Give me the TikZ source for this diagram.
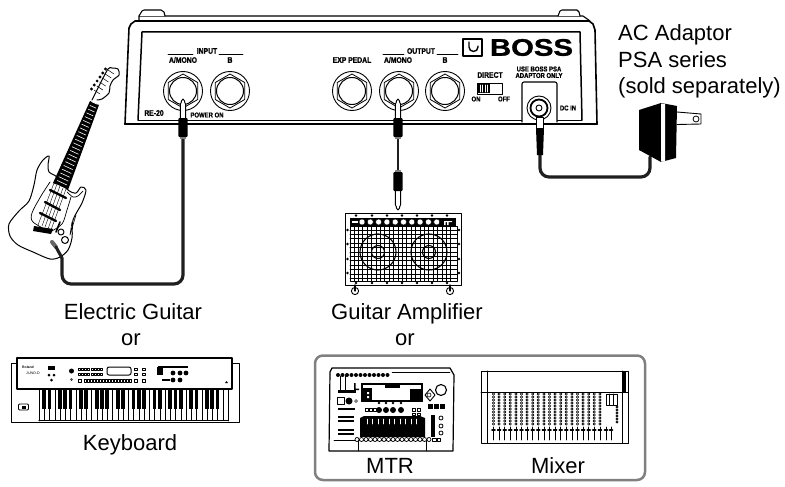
\documentclass[tikz,border=0pt]{standalone}
\usepackage{fontspec}
\setmainfont{Liberation Sans}
\newfontfamily\panelfam[UprightFont={* Bold},FakeBold=1.2]{Liberation Sans}
\usetikzlibrary{calc,positioning}
\newcommand{\capfont}{\fontsize{22}{26}\selectfont}
\newcommand{\panelfont}{\panelfam\fontsize{8}{9}\selectfont}
\newcommand{\smallpanelfont}{\panelfam\fontsize{7}{8}\selectfont}
\tikzset{
  caption/.style={font=\capfont,inner sep=0pt,anchor=base},
  panel/.style={font=\panelfont,inner sep=0pt,xscale=.85,transform shape},
  smallpanel/.style={panel,font=\smallpanelfont},
  tiny/.style={font=\fontsize{3.6}{4}\selectfont,inner sep=0pt},
  cable/.style={line width=3.2pt,black!88,rounded corners=9pt},
  jackhole/.pic={
    \draw[line width=.9pt] (0,0) circle (19.5pt);
    \draw[line width=.8pt] (90:17pt) -- (150:17pt) -- (210:17pt) -- (270:17pt) -- (330:17pt) -- (30:17pt) -- cycle;
    \draw[line width=1pt] (0,0) circle (13.5pt);
  },
  jackplug/.pic={
    \draw[fill=white,line width=.9pt] (-2.6,20) -- (-2.6,5) -- (-1.6,3) -- (-1.6,2) -- (0,0) -- (1.6,2) -- (1.6,3) -- (2.6,5) -- (2.6,20) -- cycle;
    \fill[black,rounded corners=1pt] (-4.6,19) rectangle (4.6,38);
    \fill[black!50] (-2.6,38) rectangle (2.6,40);
  },
}
\begin{document}
\begin{tikzpicture}[x=1pt,y=-1pt,line cap=round,line join=round]
  \useasboundingbox (0,0) rectangle (785,487);

  % draw pedal housing
  \draw[line width=1.1pt] (139,21) -- (139,16) -- (583,16) -- (590,21);
  \draw[line width=1.1pt,fill=white] (139,16) -- (142,11) -- (144,10) -- (161,10) -- (164,12) -- (165,16);
  \draw[line width=1.1pt,fill=white] (558,16) -- (560,11) -- (562,10) -- (577,10) -- (579,12) -- (580,16);
  \draw[line width=1.6pt] (125,124) -- (129,28) -- (131,24) -- (135,21) -- (589,21) -- (593,24) -- (595,30) -- (597,124);
  \draw[line width=2.2pt] (125,124) -- (597,124);
  \draw[line width=1.5pt] (138,120) -- (142,32) -- (580,32) -- (582,120);
  \draw[line width=.9pt] (138,120) -- (522,120) (557,120) -- (582,120);

  % draw jacks
  \foreach \jackx/\jackname in {183/ina,230/inb,352/exp,399/outa,445/outb}{
    \pic (\jackname) at (\jackx,91) {jackhole};
  }

  % panel text
  \node[panel] (inputlbl) at (207,51) {INPUT};
  \node[panel] (outputlbl) at (421,51) {OUTPUT};
  \draw[line width=.8pt] (168,54) -- (193,54) (219,54) -- (243,54);
  \draw[line width=.8pt] (383,54) -- (404,54) (437,54) -- (458,54);
  \node[panel] (inalbl) at (183,60) {A/MONO};
  \node[panel] (inblbl) at (230,60) {B};
  \node[panel] (explbl) at (352,60) {EXP PEDAL};
  \node[panel] (outalbl) at (398,60) {A/MONO};
  \node[panel] (outblbl) at (445,60) {B};
  \node[panel] (directlbl) at (490,75) {DIRECT};
  \node[smallpanel] (onlbl) at (476,99) {ON};
  \node[smallpanel] (offlbl) at (504,99) {OFF};
  \node[smallpanel] (uselbl) at (539,69) {USE BOSS PSA};
  \node[smallpanel] (onlylbl) at (539,75.5) {ADAPTOR ONLY};
  \node[smallpanel] (dclbl) at (568,108) {DC IN};
  \node[panel] (modellbl) at (154,113) {RE-20};
  \node[smallpanel] (powerlbl) at (207,115) {POWER ON};

  % logo
  \draw[line width=1.2pt] (463,39) rectangle (482,56);
  \draw[line width=1.4pt] (469,42) -- (469,47) arc (180:360:4.5pt and 4.5pt) -- (478,46);
  \node[inner sep=0pt,font=\panelfam\fontsize{24}{24}\selectfont,xscale=1.22,transform shape] (bosslogo) at (531.5,47.5) {BOSS};

  % direct switch
  \draw[line width=.9pt] (477,83) rectangle (502,94);
  \fill (478,84) rectangle (490,93);
  \foreach \sx in {480,482.5,485,487.5}{
    \draw[white,line width=.6pt] (\sx,85) -- (\sx,92);
  }

  % dc in socket
  \draw[line width=1.1pt,fill=white,rounded corners=2pt] (522,122) -- (522,82) -- (557,82) -- (557,122);
  \draw[line width=.9pt] (539,108) circle (12pt);
  \draw[line width=1.8pt] (539,108) circle (8.5pt);
  \draw[line width=.9pt] (539,108) circle (3pt);

  % cables
  \coordinate (inplug) at (183,137);
  \coordinate (guitarjack) at (62,258);
  \coordinate (outplug) at (398,137);
  \coordinate (ampplug) at (398,172);
  \coordinate (dcplug) at (540,155);
  \coordinate (adaptorout) at (650,157);
  \draw[cable] (inplug) -- ++(0,147) -| (guitarjack);
  \draw[cable,line width=2.4pt] (outplug) -- (ampplug);
  \draw[cable] (dcplug) -- ++(0,22) -| (adaptorout);

  % plugs
  \pic at (183,99) {jackplug};
  \pic at (398,99) {jackplug};
  \pic[yscale=-1] at (398,210) {jackplug};
  \draw[fill=white,line width=.9pt] (536.5,117) rectangle (543.5,129);
  \fill (536,128) -- (544,128) -- (543,155) -- (537,155) -- cycle;

  % ac adaptor
  \fill (639,110) -- (661,103) -- (677,106) -- (676,158) -- (661,162) -- (639,150) -- cycle;
  \fill[white] (661,103.5) -- (665,104) -- (665,161.5) -- (661,161.5) -- cycle;
  \draw[line width=.9pt,fill=white] (677,112) -- (701,114) -- (701,124) -- (677,124.5);
  \draw[line width=.8pt] (696,119) circle (3pt);
  \node[caption,anchor=base west] (aclbl) at (618,41) {AC Adaptor};
  \node[caption,anchor=base west] (psalbl) at (618,67) {PSA series};
  \node[caption,anchor=base west] (soldlbl) at (618,93) {(sold separately)};

  % draw guitar body
  \draw[line width=1pt,fill=white] plot[smooth cycle] coordinates {(49,156) (43,160) (37,170) (34,185) (29,201) (19,211) (9,224) (10,236) (18,245) (33,252) (50,259) (60,257) (68,250) (72,238) (73,220) (82,203) (86,190) (81,187) (76,193) (68,190) (57,177) (49,172) (48,165)};
  \draw[line width=.7pt] plot[smooth] coordinates {(67,192) (73,197) (78,196) (83,191)};
  \draw[line width=.7pt] plot[smooth] coordinates {(50,182) (41,196) (32,213) (33,222) (50,232)};
  \draw[line width=.7pt] plot[smooth] coordinates {(50,232) (62,224) (67,210) (71,197)};
  \draw[line width=.6pt] (76,215) -- (70,235) -- (72,222);

  % neck and head
  \coordinate (neckla) at (90,101);
  \coordinate (neckra) at (99,105);
  \coordinate (necklb) at (53,183);
  \coordinate (neckrb) at (68,190);
  \draw[line width=1pt,fill=white] plot[smooth] coordinates {(92,100) (99,86) (108,69) (112,68) (118,69) (119,75) (113,80) (110,86) (109,93) (102,99) (97,100)};
  \fill (neckla) -- (neckra) -- (neckrb) -- (necklb) -- cycle;
  \foreach \fr in {0,1,...,22}{
    \draw[white,line width=.6pt] ($(neckla)!\fr/22!(necklb)!.18!($(neckra)!\fr/22!(neckrb)$)$) -- ($(neckla)!\fr/22!(necklb)!.82!($(neckra)!\fr/22!(neckrb)$)$);
  }
  \foreach \ty in {0,1,...,5}{
    \fill ($(108,70)!\ty/5!(94,90)$) ++(-2.5,-1) circle (1.6pt);
    \draw[line width=.5pt] ($(108,70)!\ty/5!(94,90)$) -- ++(6,4);
  }
  \draw[line width=.4pt] (45,227) -- (60,186) (48,229) -- (63,188) (51,230) -- (66,189);
  \draw[line width=.4pt] (38,225) -- (54,183) (42,226) -- (57,184);

  % pickups, bridge and knobs
  \draw[line width=2.4pt] (50,190) -- (66,198);
  \draw[line width=2.4pt] (45,202) -- (60,210);
  \draw[line width=2.4pt] (40,213) -- (56,221);
  \fill (34,226) -- (53,229) -- (51,234) -- (33,231) -- cycle;
  \draw[line width=1.6pt] (56,232) -- (60,222);
  \draw[line width=1pt] (61,232) circle (3pt);
  \draw[line width=1pt] (65,240) circle (3.5pt);

  % guitar lead
  \draw[line width=4pt,black!60] (52,242) -- (56,247);
  \draw[line width=3pt,black!88] (56,247) -- (guitarjack);

  % draw amplifier
  \draw[line width=1pt,fill=white] (345,213) rectangle (461,285);
  \draw[line width=1pt] (350,226) rectangle (457,281);
  \foreach \gx in {354,358.4,...,455}{
    \draw[line width=1pt] (\gx,226) -- (\gx,281);
  }
  \foreach \gy in {230,234.4,...,280}{
    \draw[line width=1pt] (350,\gy) -- (457,\gy);
  }
  \foreach \spx in {378,429}{
    \draw[line width=1.1pt] (\spx,252) circle (18pt);
    \draw[line width=1.1pt] (\spx,252) circle (6.5pt);
  }
  \fill (350,218) rectangle (456,226);
  \fill[white] (352,221) rectangle (358,222.5);
  \foreach \kx in {362,370.3,...,438}{
    \draw[fill=white,line width=.4pt] (\kx,222) circle (3pt);
  }
  \fill[white] (444,222) rectangle (445.5,225) (447,222) rectangle (448.5,225) (444,221) rectangle (452,222);
  \foreach \stx in {356,372,387,402,417,432,447}{
    \fill (\stx,215.5) circle (1.3pt);
    \fill (\stx,283) circle (1.3pt);
  }
  \foreach \sty in {230,244,259,273}{
    \fill (347.5,\sty) circle (1.3pt);
    \fill (459,\sty) circle (1.3pt);
  }
  \foreach \whx in {355,450}{
    \draw[line width=.9pt] (\whx,291) circle (3.6pt);
    \draw[line width=1.2pt] (\whx,285) -- (\whx,291);
  }

  % captions
  \node[caption] (guitarlbl) at (133,319) {Electric Guitar};
  \node[caption] (guitaror) at (131,345) {or};
  \node[caption] (keyboardlbl) at (130,450) {Keyboard};
  \node[caption] (amplbl) at (407,319) {Guitar Amplifier};
  \node[caption] (ampor) at (405,345) {or};

  % draw keyboard
  \draw[line width=1pt,fill=white] (11,363) rectangle (239,422);
  \draw[line width=1.2pt,fill=white] (17,358) -- (232,358) -- (232,389) -- (17,389) -- cycle;
  \draw[line width=.9pt] (39,389) -- (39,421) (228,389) -- (228,421);
  \draw[line width=1.4pt] (39,420.5) -- (228,420.5);
  \foreach \wk in {1,...,35}{
    \draw[line width=.4pt] ({39+\wk*5.25},389) -- ({39+\wk*5.25},420);
  }
  \foreach \oct in {0,...,4}{
    \foreach \bk in {1,2,4,5,6}{
      \fill ({39+(\oct*7+\bk)*5.25-1.8},389) rectangle ({39+(\oct*7+\bk)*5.25+1.8},409);
    }
  }
  \draw[line width=.8pt,rounded corners=1pt] (18.5,404) rectangle (28.5,410);
  \fill (21.5,405.5) rectangle (25.5,408.5);
  \node[tiny,font=\fontsize{3.4}{4}\bfseries\selectfont] (rolandlbl) at (28,367.5) {Roland};
  \node[tiny] (junolbl) at (33,373) {JUNO-D};
  \fill (48,366) rectangle (55,370);
  \fill (49,375) circle (1.5pt) (54,375) circle (1.5pt) (51.5,380) circle (1.5pt);
  \fill (71.5,371) circle (2.5pt);
  \draw[line width=.7pt] (71.5,379.5) circle (1pt);
  \foreach \bx in {78,81,84,87,91,94,97,100}{
    \draw[line width=.6pt] (\bx,368.5) rectangle ++(2,1.8);
    \draw[line width=.6pt] (\bx,373) rectangle ++(2,1.8);
  }
  \draw[line width=1pt,rounded corners=2pt] (107,367) rectangle (131,375);
  \draw[line width=.6pt] (78,379) rectangle (81,382);
  \foreach \sb in {84,87,...,129}{
    \draw[line width=.6pt] (\sb,379) rectangle ++(2,3);
  }
  \foreach \bx in {134,142}{
    \draw[line width=.6pt] (\bx,379) rectangle ++(3,3);
    \draw[line width=.6pt] (\bx,368) rectangle ++(3,2);
    \draw[line width=.6pt] (\bx,373) rectangle ++(3,2);
  }
  \fill (157,367) rectangle (163,375);
  \fill (158,366) -- (188,366) -- (188,367.5) -- (158,367.5) -- cycle;
  \foreach \kbx in {173,180,186}{
    \fill (\kbx,373) circle (2.4pt);
  }
  \foreach \kbx in {173,180}{
    \fill (\kbx,380) circle (2.4pt);
  }
  \fill (162,379) rectangle (170,381);
  \fill (225,383) -- (228,383) -- (226.5,381) -- cycle;

  % draw box round recorders
  \draw[line width=2.5pt,black!50,rounded corners=8pt] (315,355.5) rectangle (645,480);

  % draw mtr
  \draw[line width=1.2pt,fill=white] (329,451) -- (330,372) -- (332,368) -- (450,368) -- (454,375) -- (453,451) -- cycle;
  \draw[line width=.8pt] (334,440) -- (356,440) (358,451) -- (358,440) -- (426,440) -- (426,451);
  \foreach \tbx in {338,342.5,...,391}{
    \fill (\tbx,375) circle (2pt);
  }
  \draw[line width=.5pt] (392,372) -- (450,372);
  \fill (361,383) rectangle (423,402);
  \fill[white] (363,385) rectangle (421,400);
  \fill (385,385) rectangle (400,388);
  \fill (363,388) -- (372,388) -- (372,400) -- (363,400) -- cycle;
  \fill (410,389) rectangle (421,400);
  \fill[white] (367,392) rectangle (369,394) (367,396) rectangle (369,398);
  \foreach \krx in {379,386,393,401}{
    \fill (\krx,410) circle (3pt);
    \fill (\krx,403) circle (1.4pt);
  }
  \foreach \bkx in {365,369,373}{
    \draw[line width=.7pt] (\bkx,408) rectangle ++(3,3);
  }
  \foreach \bkx in {412,417}{
    \draw[line width=.7pt] (\bkx,408) rectangle ++(3,3);
    \draw[line width=.7pt] (\bkx,413) rectangle ++(3,2);
  }
  \fill (360,418) -- (364,416) -- (420,416) -- (425,418) -- (425,437) -- (360,437) -- cycle;
  \foreach \ftx in {367,372.5,...,420}{
    \draw[white,line width=.5pt] (\ftx,419) -- (\ftx,424);
  }
  \foreach \btx in {357,361.5,...,430}{
    \draw[fill=white,line width=.7pt] (\btx,439.5) circle (2pt);
  }
  \draw[line width=1.1pt] (441,390) circle (5.5pt);
  \draw[line width=.9pt] (430,389) -- (435,395) -- (430,401) -- (425,395) -- cycle;
  \draw[line width=.6pt] (429,395) circle (2pt);
  \foreach \bsx in {428,434,440}{
    \fill (\bsx,404) rectangle ++(5,5);
  }
  \foreach \cky in {418,426,433}{
    \draw[line width=.8pt] (441,\cky) circle (2pt);
  }
  \fill (431,415) rectangle (435,437);
  \draw[line width=.7pt] (432,438) rectangle ++(4,3) (437,438) rectangle ++(3,3);
  \fill (338,408) rectangle (355,410);
  \foreach \lfy in {416,420,429,433}{
    \fill (338,\lfy) rectangle ++(16,2.4);
  }
  \draw[line width=.8pt] (337,397.5) rectangle (344,404.5);
  \fill (349,401) circle (3.5pt);
  \draw[line width=.5pt] (356,401) circle (1.4pt);
  \draw[line width=.6pt] (340,376) -- (340,390) (345,376) -- (345,390);
  \fill (354,383) rectangle (355.5,390) -- (359,390) -- (359,388.5) -- (354,388.5);
  \fill (338,390) rectangle (356,393);

  % draw mixer
  \draw[line width=1pt,fill=white] (481,371) rectangle (628,443);
  \draw[line width=1pt] (481,392) -- (628,392) (487,371) -- (487,443) (622,371) -- (622,392);
  \draw[line width=1pt] (622,392) -- (622,443);
  \fill (622,372) rectangle (626,392);
  \foreach \cx in {0,...,19}{
    \foreach \cdy in {394,397,...,425}{
      \draw[line width=.6pt] ({493.5+\cx*5.6},\cdy) circle (1.2pt);
    }
    \draw[line width=.8pt] ({493.5+\cx*5.6},427) -- ({493.5+\cx*5.6},440);
    \draw[line width=1.6pt] ({492+\cx*5.6},430) -- ({495+\cx*5.6},430);
  }
  \draw[line width=.8pt] (606,394) rectangle (617,405);
  \draw[line width=.7pt] (609.5,394) -- (609.5,405) (613.5,394) -- (613.5,405);
  \foreach \mdy in {407,410,...,422}{
    \draw[line width=.7pt] (617,\mdy) circle (1.2pt);
  }
  \foreach \mfx in {606,611}{
    \draw[line width=.8pt] (\mfx,427) -- (\mfx,440);
    \draw[line width=1.6pt] (\mfx-1.5,430) -- (\mfx+1.5,430);
  }

  \node[caption] (mtrlbl) at (390,473) {MTR};
  \node[caption] (mixerlbl) at (558,473) {Mixer};
\end{tikzpicture}
\end{document}
